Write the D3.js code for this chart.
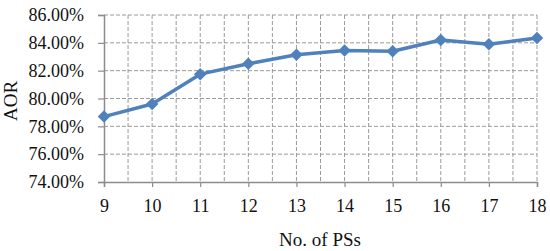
<!DOCTYPE html>
<html><head>
<meta charset="utf-8">
<style>
body { margin: 0; background: white; }
svg { display: block; }
text { font-family: 'Liberation Serif', 'Times New Roman', serif; fill: #111; }
</style>
</head>
<body>
<svg id="chart" width="550" height="251"></svg>
<script src="https://d3js.org/d3.v7.min.js"></script>
<script>
// number of PSs vs AOR (%)
const psCounts = [9, 10, 11, 12, 13, 14, 15, 16, 17, 18];
const aorValues = [78.7, 79.6, 81.75, 82.5, 83.15, 83.45, 83.4, 84.2, 83.9, 84.35];
const yTicks = [74, 76, 78, 80, 82, 84, 86];

const svg = d3.select("#chart");
const x = d3.scaleLinear().domain([9, 18]).range([104, 537]);
const y = d3.scaleLinear().domain([74, 86]).range([182, 15]);

// vertical grid at every half step
const vGrid = d3.range(9.5, 18.01, 0.5);
svg.append("g").selectAll("line")
  .data(vGrid)
  .join("line")
  .attr("x1", d => x(d)).attr("x2", d => x(d))
  .attr("y1", y(86)).attr("y2", y(74))
  .attr("stroke", "#9a9a9a")
  .attr("stroke-width", 1)
  .attr("stroke-dasharray", "4,2");

// horizontal grid
svg.append("g").selectAll("line")
  .data(yTicks.filter(d => d > 74))
  .join("line")
  .attr("x1", x(9)).attr("x2", x(18))
  .attr("y1", d => y(d)).attr("y2", d => y(d))
  .attr("stroke", "#9a9a9a")
  .attr("stroke-width", 1)
  .attr("stroke-dasharray", "4,2");

// y axis
const yAxis = d3.axisLeft(y)
  .tickValues(yTicks)
  .tickSize(6)
  .tickPadding(14)
  .tickFormat(d => d.toFixed(2) + "%");
const gy = svg.append("g").attr("transform", `translate(${x(9)},0)`).call(yAxis);
gy.select(".domain").attr("stroke", "#8c8c8c").attr("stroke-width", 1.5);
gy.selectAll(".tick line").attr("stroke", "#8c8c8c").attr("stroke-width", 1.2);
gy.selectAll(".tick text")
  .style("font-family", "'Liberation Serif', serif")
  .style("font-size", "18px")
  .attr("fill", "#111");

// x axis
const xAxis = d3.axisBottom(x)
  .tickValues(psCounts)
  .tickSize(5)
  .tickPadding(12)
  .tickFormat(d3.format("d"));
const gx = svg.append("g").attr("transform", `translate(0,${y(74)})`).call(xAxis);
gx.select(".domain").attr("stroke", "#8c8c8c").attr("stroke-width", 1.5);
gx.selectAll(".tick line").attr("stroke", "#8c8c8c").attr("stroke-width", 1.2);
gx.selectAll(".tick text")
  .style("font-family", "'Liberation Serif', serif")
  .style("font-size", "18px")
  .attr("fill", "#111");

// series line
const line = d3.line()
  .x((d, i) => x(psCounts[i]))
  .y(d => y(d));
svg.append("path")
  .datum(aorValues)
  .attr("fill", "none")
  .attr("stroke", "#4f81bd")
  .attr("stroke-width", 3.5)
  .attr("stroke-linejoin", "round")
  .attr("d", line);

// diamond markers
const diamond = d3.symbol().type(d3.symbolDiamond2).size(100);
svg.append("g").selectAll("path")
  .data(aorValues)
  .join("path")
  .attr("transform", (d, i) => `translate(${x(psCounts[i])},${y(d)})`)
  .attr("d", diamond)
  .attr("fill", "#4f81bd");

// axis titles
svg.append("text")
  .attr("x", 320).attr("y", 246)
  .attr("text-anchor", "middle")
  .style("font-size", "19px")
  .text("No. of PSs");

svg.append("text")
  .attr("transform", "translate(17,101) rotate(-90)")
  .attr("text-anchor", "middle")
  .style("font-size", "19px")
  .text("AOR");
</script>
</body>
</html>
